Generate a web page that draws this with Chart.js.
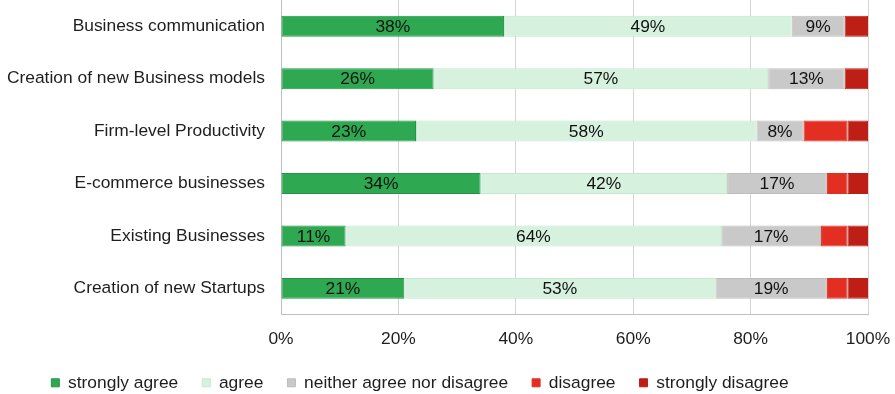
<!DOCTYPE html>
<html>
<head>
<meta charset="utf-8">
<script src="https://cdn.jsdelivr.net/npm/chart.js@4/dist/chart.umd.min.js"></script>
<style>
  html, body { margin: 0; padding: 0; background: #fff; }
  #wrap { width: 895px; height: 394px; position: relative; }
</style>
</head>
<body>
<div id="wrap"><canvas id="surveyChart"></canvas></div>
<script>
// Survey answers per area, share of respondents in %
const categories = [
    'Business communication',
    'Creation of new Business models',
    'Firm-level Productivity',
    'E-commerce businesses',
    'Existing Businesses',
    'Creation of new Startups'
];
const stronglyAgree    = [38, 26, 23, 34, 11, 21];
const agree            = [49, 57, 58, 42, 64, 53];
const neither          = [9, 13, 8, 17, 17, 19];
const disagree         = [0, 0, 7.5, 3.5, 4.5, 3.5];
const stronglyDisagree = [4, 4, 3.5, 3.5, 3.5, 3.5];
const xTicks = [0, 20, 40, 60, 80, 100];

const FONT = '"Liberation Sans", Arial, sans-serif';
const FONT_SIZE = 17.4;

const seriesConfigs = [
    { label: 'strongly agree', data: stronglyAgree, color: '#2ea851', border: '#23944a', showValue: true },
    { label: 'agree', data: agree, color: '#d6f1de', border: '#c4e8cf', showValue: true },
    { label: 'neither agree nor disagree', data: neither, color: '#c9c9c9', border: '#bdbdbd', showValue: true },
    { label: 'disagree', data: disagree, color: '#e32f22', border: '#e32f22', showValue: false },
    { label: 'strongly disagree', data: stronglyDisagree, color: '#bd1f16', border: '#bd1f16', showValue: false }
];

// writes the percentage in the middle of each labelled segment
const segmentLabels = {
    id: 'segmentLabels',
    afterDatasetsDraw(chart) {
        const ctx = chart.ctx;
        ctx.save();
        ctx.font = FONT_SIZE + 'px ' + FONT;
        ctx.fillStyle = '#111';
        ctx.textAlign = 'center';
        ctx.textBaseline = 'middle';
        chart.data.datasets.forEach((ds, i) => {
            if (!seriesConfigs[i].showValue) return;
            chart.getDatasetMeta(i).data.forEach((bar, j) => {
                const v = ds.data[j];
                if (!v) return;
                const p = bar.getCenterPoint();
                ctx.fillText(v + '%', p.x, p.y + 1);
            });
        });
        ctx.restore();
    }
};

// nudges the legend row into place under the axis labels
const legendOffset = {
    id: 'legendOffset',
    afterLayout(chart) {
        const lg = chart.legend;
        if (!lg) return;
        lg.left -= 14; lg.right -= 14;
        lg.top -= 10.5; lg.bottom -= 10.5;
    }
};

const chart = new Chart(document.getElementById('surveyChart'), {
    type: 'bar',
    data: {
        labels: categories,
        datasets: seriesConfigs.map(s => ({
            label: s.label,
            data: s.data,
            backgroundColor: s.color,
            borderColor: s.border,
            borderWidth: 1,
            borderSkipped: false,
            barPercentage: 0.4,
            categoryPercentage: 1
        }))
    },
    options: {
        indexAxis: 'y',
        responsive: true,
        maintainAspectRatio: false,
        animation: false,
        layout: { padding: { top: 0, right: 27, bottom: -18, left: 0 } },
        plugins: {
            tooltip: { enabled: false },
            legend: {
                position: 'bottom',
                labels: {
                    font: { family: FONT, size: FONT_SIZE },
                    color: '#1e1e1e',
                    boxWidth: 8,
                    boxHeight: 8,
                    padding: 24
                }
            }
        },
        scales: {
            x: {
                stacked: true,
                min: 0,
                max: 100,
                afterBuildTicks(scale) {
                    scale.ticks = xTicks.map(v => ({ value: v }));
                },
                afterFit(scale) {
                    scale.height = 46;
                    scale.paddingLeft = 0;
                    scale.paddingRight = 0;
                },
                ticks: {
                    font: { family: FONT, size: FONT_SIZE },
                    color: '#1e1e1e',
                    padding: 14,
                    callback: v => v + '%'
                },
                grid: { color: '#d4d4d4', drawTicks: false },
                border: { display: true, color: '#bfbfbf' }
            },
            y: {
                stacked: true,
                afterFit(scale) {
                    scale.width = 281;
                    scale.paddingTop = 0;
                    scale.paddingBottom = 0;
                },
                ticks: {
                    font: { family: FONT, size: FONT_SIZE },
                    color: '#1e1e1e',
                    padding: 16
                },
                grid: { display: false, drawTicks: false },
                border: { display: true, color: '#bfbfbf' }
            }
        }
    },
    plugins: [segmentLabels, legendOffset]
});
</script>
</body>
</html>
